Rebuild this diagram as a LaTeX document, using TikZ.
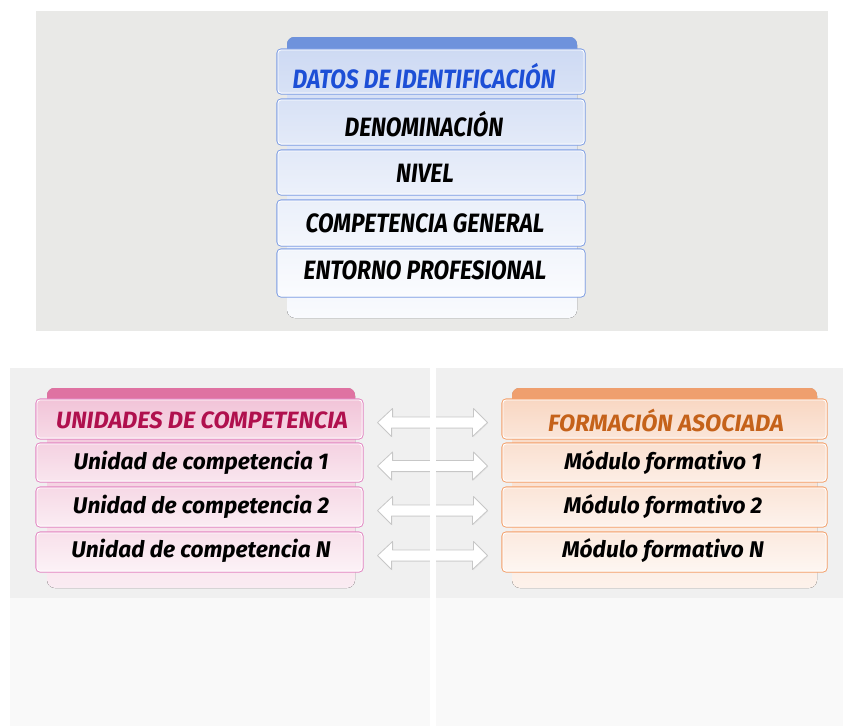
\documentclass[tikz,border=0pt]{standalone}
\usepackage{fontspec}
\setmainfont{Fira Sans}
\usepackage{graphicx}
\usetikzlibrary{calc,shadows}
\definecolor{topbg}{HTML}{E9E9E7}
\definecolor{botbg}{HTML}{F0F0F0}
\definecolor{botbgl}{HTML}{F9F9F9}
\definecolor{bTab}{HTML}{6E92DC}
\definecolor{bBorder}{HTML}{7D9DE4}
\definecolor{bText}{HTML}{1D4FD6}
\definecolor{pTab}{HTML}{DF72A2}
\definecolor{pBorder}{HTML}{E386C2}
\definecolor{pText}{HTML}{B0104E}
\definecolor{oTab}{HTML}{EF9F6E}
\definecolor{oBorder}{HTML}{F4A06A}
\definecolor{oText}{HTML}{C5621A}
\tikzset{
  rowbox/.style={draw=#1, line width=1.1pt, rounded corners=4pt, inner sep=0pt},
  hilite/.style={draw=white, line width=0.9pt, rounded corners=3pt},
  toptxt/.style={font=\fontsize{26.5}{28}\selectfont\bfseries\itshape, inner sep=0pt},
  bottxt/.style={font=\fontsize{22.7}{25}\selectfont\bfseries\itshape, inner sep=0pt},
  hdtxt/.style={font=\fontsize{23.6}{26}\selectfont\bfseries\itshape, inner sep=0pt},
  dblarrow/.style={fill=white, draw=black!22, line width=0.8pt, line join=round,
    drop shadow={opacity=0.12, shadow xshift=0.8pt, shadow yshift=-0.8pt}},
}
\begin{document}
\begin{tikzpicture}[x=1pt,y=-1pt]
\useasboundingbox (0,0) rectangle (843,726);
\fill[white] (0,0) rectangle (843,726);
% ---------- top panel ----------
\fill[topbg] (36,11) rectangle (828,331);
\fill[top color=bTab!35!white, bottom color=white!96!bTab, rounded corners=8pt] (287,37) rectangle (577,318);
\fill[bTab, rounded corners=7pt] (287,37) rectangle (577,56);
\fill[bTab] (287,48) rectangle (577,56);
\foreach \n/\ya/\yb/\ct/\cb in {d1/49/94/34/27, d2/99/145/27/19, d3/150/195/20/13, d4/200/246/14/8, d5/249/297/9/3}{
  \node[rowbox=bBorder, top color=bTab!\ct!white, bottom color=bTab!\cb!white,
        minimum width=308pt, minimum height={(\yb-\ya)*1pt}] (\n) at (431,{(\ya+\yb)/2}) {};
  \draw[hilite] ([shift={(1.5,1.5)}]\n.north west) rectangle ([shift={(-1.5,-1.5)}]\n.south east);
}
\node[toptxt, text=bText] (t1) at (424,76) {\scalebox{0.86}[1]{DATOS DE IDENTIFICACIÓN}};
\node[toptxt] (t2) at (424,124) {\scalebox{0.86}[1]{DENOMINACIÓN}};
\node[toptxt] (t3) at (425,173) {\scalebox{0.86}[1]{NIVEL}};
\node[toptxt] (t4) at (425,223) {\scalebox{0.86}[1]{COMPETENCIA GENERAL}};
\node[toptxt] (t5) at (425,270) {\scalebox{0.86}[1]{ENTORNO PROFESIONAL}};
% ---------- bottom panels ----------
\fill[botbg] (10,368) rectangle (843,598);
\fill[botbgl] (10,598) rectangle (843,726);
% pink stack
\fill[top color=pTab!45!white, bottom color=pTab!14!white, rounded corners=8pt] (47,388) rectangle (355,588);
\fill[pTab, rounded corners=7pt] (47,388) rectangle (355,405);
\fill[pTab] (47,398) rectangle (355,405);
% orange stack
\fill[top color=oTab!45!white, bottom color=oTab!14!white, rounded corners=8pt] (512,388) rectangle (817,588);
\fill[oTab, rounded corners=7pt] (512,388) rectangle (817,405);
\fill[oTab] (512,398) rectangle (817,405);
\foreach \k/\ya/\yb/\ct/\cb in {1/399/439/42/26, 2/443/482/32/18, 3/487/527/27/13, 4/532/572/22/9}{
  \node[rowbox=pBorder, top color=pTab!\ct!white, bottom color=pTab!\cb!white,
        minimum width=327pt, minimum height={(\yb-\ya)*1pt}] (u\k) at (199.5,{(\ya+\yb)/2}) {};
  \draw[hilite] ([shift={(1.5,1.5)}]u\k.north west) rectangle ([shift={(-1.5,-1.5)}]u\k.south east);
  \node[rowbox=oBorder, top color=oTab!\ct!white, bottom color=oTab!\cb!white,
        minimum width=325pt, minimum height={(\yb-\ya)*1pt}] (f\k) at (664.5,{(\ya+\yb)/2}) {};
  \draw[hilite] ([shift={(1.5,1.5)}]f\k.north west) rectangle ([shift={(-1.5,-1.5)}]f\k.south east);
}
\node[hdtxt, text=pText] (ut1) at (202,420) {UNIDADES DE COMPETENCIA};
\node[bottxt] (ut2) at (201,463) {Unidad de competencia 1};
\node[bottxt] (ut3) at (201,507) {Unidad de competencia 2};
\node[bottxt] (ut4) at (201,551) {Unidad de competencia N};
\node[hdtxt, text=oText] (ft1) at (666,420) {FORMACIÓN ASOCIADA};
\node[bottxt] (ft2) at (663,463) {Módulo formativo 1};
\node[bottxt] (ft3) at (663,507) {Módulo formativo 2};
\node[bottxt] (ft4) at (663,551) {Módulo formativo N};
% double arrows
\foreach \k in {1,2,3,4}{
  \draw[dblarrow] ($(u\k.east)+(14,3.5)$) -- ++(15,-14) -- ++(0,8.5) -- ++(81,0) -- ++(0,-8.5)
     -- ($(f\k.west)+(-14,3.5)$) -- ++(-15,14) -- ++(0,-8.5) -- ++(-81,0) -- ++(0,8.5) -- cycle;
}
% white divider
\fill[white] (430,368) rectangle (436,726);
\end{tikzpicture}
\end{document}
